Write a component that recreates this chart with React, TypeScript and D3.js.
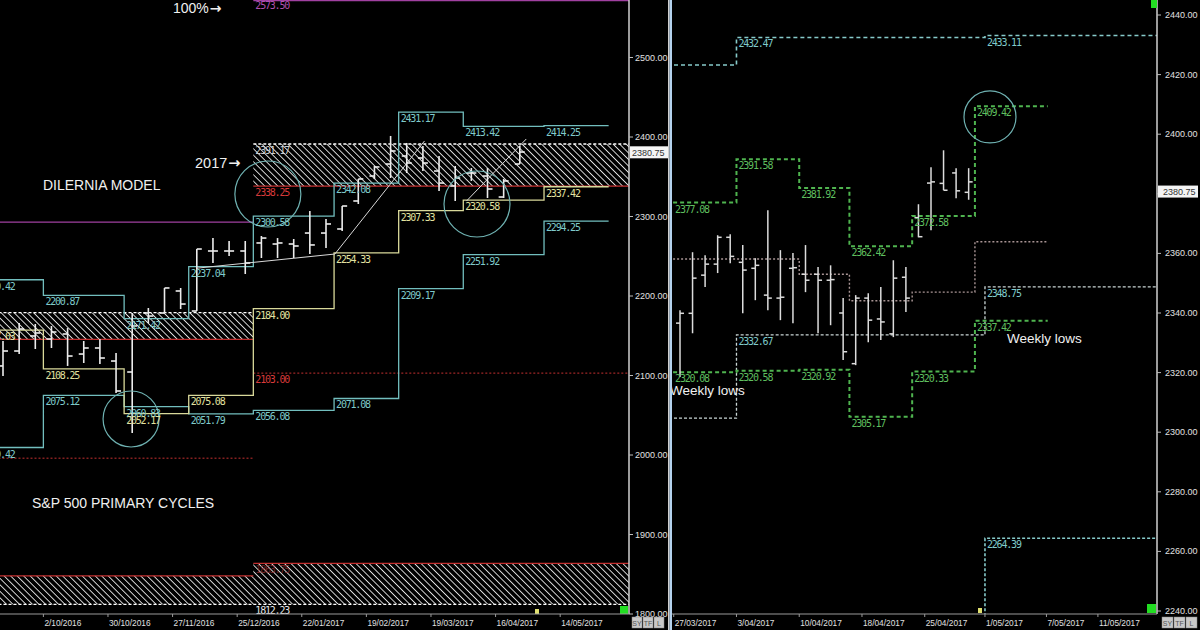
import React from "react";
import * as d3 from "d3";

// ---------------- LEFT PANEL (weekly S&P 500) ----------------
const weekLabels = ["11/09/2016","18/09/2016","25/09/2016","2/10/2016","9/10/2016","16/10/2016","23/10/2016","30/10/2016","6/11/2016","13/11/2016","20/11/2016","27/11/2016","4/12/2016","11/12/2016","18/12/2016","25/12/2016","1/01/2017","8/01/2017","15/01/2017","22/01/2017","29/01/2017","5/02/2017","12/02/2017","19/02/2017","26/02/2017","5/03/2017","12/03/2017","19/03/2017","26/03/2017","2/04/2017","9/04/2017","16/04/2017","23/04/2017"];
const wHigh = [2143.4,2166.0,2164.8,2162.3,2159.7,2143.4,2145.9,2128.3,2178.6,2184.9,2210.1,2210.1,2259.1,2272.9,2269.2,2269.2,2275.5,2272.9,2271.7,2306.9,2296.9,2313.2,2347.2,2363.5,2401.3,2392.5,2388.7,2376.1,2363.5,2361.0,2361.0,2347.2,2388.7];
const wLow = [2099.4,2127.0,2133.3,2134.6,2112.0,2115.7,2114.5,2078.0,2027.7,2166.0,2178.6,2183.6,2181.1,2241.5,2250.3,2227.7,2247.8,2247.8,2247.8,2252.8,2260.4,2281.8,2315.7,2347.2,2348.4,2354.7,2357.2,2332.1,2319.5,2344.7,2323.3,2323.3,2366.0];
const wOpen = [2112.0,2130.8,2149.7,2145.9,2152.2,2127.0,2134.6,2118.2,2104.4,2178.6,2178.6,2206.3,2181.1,2256.6,2256.6,2256.6,2266.7,2265.4,2265.4,2279.2,2279.2,2284.3,2319.5,2350.9,2366.0,2376.1,2373.6,2357.2,2338.4,2354.7,2350.9,2324.5,2366.0];
const wClose = [2130.8,2158.5,2153.5,2154.7,2124.5,2134.6,2122.0,2080.5,2162.3,2174.8,2210.1,2189.9,2259.1,2256.6,2256.6,2241.5,2272.9,2266.7,2262.9,2264.2,2290.6,2313.2,2347.2,2362.3,2382.4,2367.3,2367.3,2342.1,2348.4,2354.7,2334.6,2344.7,2381.1];

const leftTickIdx = [3, 7, 11, 15, 19, 23, 27, 31, 35];
const leftTickLabels = ["2/10/2016","30/10/2016","27/11/2016","25/12/2016","22/01/2017","19/02/2017","19/03/2017","16/04/2017","14/05/2017"];
const leftYTicks = [1800, 1900, 2000, 2100, 2200, 2300, 2400, 2500];

// monthly cycle levels (boundaries in week-index units)
const monthEdges = [-1.5, 2.5, 7.5, 11.5, 15.5, 20.5, 24.5, 28.5, 33.5, 37.5];
const upperCycle = [2220.42, 2200.87, 2171.42, 2237.04, 2300.58, 2342.08, 2431.17, 2413.42, 2414.25];
const lowerCycle = [2009.42, 2075.12, 2060.83, 2051.79, 2056.08, 2071.08, 2209.17, 2251.92, 2294.25];
const midCycle = [2157.03, 2108.25, 2052.17, 2075.08, 2184.0, 2254.33, 2307.33, 2320.58, 2337.42];

// yearly levels
const yearEdges = [-30, 15.5, 40];
const yearZoneTop = [2179.0, 2391.17];
const yearZoneBottom = [2145.5, 2338.25];
const yearBaseTop = [1848.0, 1863.75];
const yearBaseBottom = [1812.0, 1812.23];
const yearRedDotted = [1996.0, 2103.0];
const yearPurple = [2293.0, 2573.5];

const leftTrends = [
  { i1: 12, v1: 2235.0, i2: 20.55, v2: 2252.8 },
  { i1: 20.55, v1: 2252.8, i2: 26.1, v2: 2395.0 },
  { i1: 28.7, v1: 2319.5, i2: 32.4, v2: 2397.5 },
];
const leftCircles = [
  { i: 16.4, v: 2328.3, r: 33 },
  { i: 29.35, v: 2315.7, r: 33 },
  { i: 7.93, v: 2045.3, r: 28 },
];

// ---------------- RIGHT PANEL (daily) ----------------
const dayLabels = ["27/03","28/03","29/03","30/03","31/03","3/04","4/04","5/04","6/04","7/04","10/04","11/04","12/04","13/04","17/04","18/04","19/04","20/04","21/04","24/04","25/04","26/04","27/04","28/04"];
const dHigh = [2340.9,2360.4,2359.4,2366.1,2366.4,2362.8,2358.4,2374.5,2361.1,2360.1,2362.8,2355.4,2356.0,2345.0,2346.0,2346.6,2348.7,2357.7,2355.4,2376.5,2388.9,2394.6,2388.6,2388.6];
const dLow = [2318.5,2333.2,2348.7,2353.4,2356.7,2339.9,2344.3,2340.9,2337.6,2336.6,2347.0,2333.2,2335.9,2324.2,2322.5,2330.2,2330.9,2331.9,2340.3,2365.4,2367.8,2381.2,2378.5,2378.0];
const dOpen = [2336.6,2339.9,2352.7,2356.4,2365.4,2357.0,2355.0,2346.0,2345.0,2355.0,2353.0,2353.0,2351.0,2340.0,2323.0,2345.0,2338.0,2333.0,2352.0,2372.0,2383.6,2383.5,2387.0,2380.5];
const dClose = [2339.9,2351.7,2356.4,2365.4,2359.0,2354.4,2356.0,2345.0,2345.3,2355.2,2351.0,2351.0,2351.2,2327.0,2345.0,2337.6,2337.0,2351.7,2345.0,2365.6,2384.0,2381.2,2381.0,2384.0];

const rightTickIdx = [-0.5, 4.5, 9.5, 14.5, 19.5, 24.3, 29.2, 33.3];
const rightTickLabels = ["27/03/2017","3/04/2017","10/04/2017","18/04/2017","25/04/2017","1/05/2017","7/05/2017","11/05/2017"];
const rightYTicks = [2240, 2260, 2280, 2300, 2320, 2340, 2360, 2380, 2400, 2420, 2440];

const weekEdges = [-0.55, 4.5, 9.5, 13.5, 18.5, 23.5, 29.3];
const weeklyHigh = [2377.08, 2391.58, 2381.92, 2362.42, 2372.58, 2409.42];
const weeklyLow = [2320.08, 2320.58, 2320.92, 2305.17, 2320.33, 2337.42];
const weeklyMid = [2358.1, 2358.1, 2353.0, 2344.1, 2347.0, 2363.9];

const rMonthEdges = [-20, 4.5, 24.3, 40];
const monthHigh = [2423.2, 2432.47, 2433.11];
const monthMid = [2304.7, 2332.67, 2348.75];
const monthLow = [2200.0, 2200.0, 2264.39];

const rightCircle = { i: 24.7, v: 2405.8, r: 26 };
const lastPrice = 2380.75;

// ---------------- colours ----------------
const TEAL = "#72bebe";
const TEAL_TXT = "#7fcaca";
const YEL = "#d9d99a";
const YEL_TXT = "#e2e2a0";
const GREEN = "#4fb44f";
const GREEN_TXT = "#5fbf5f";
const RED = "#c43030";
const PURPLE = "#a040a0";
const WHITE = "#ececec";

const monoFont = "'DejaVu Sans Mono', monospace";
const sansFont = "'Liberation Sans', Arial, sans-serif";

function stepPath(edges: number[], vals: number[], x: any, y: any) {
  const pts: [number, number][] = edges.map((e, i) => [e, vals[Math.min(i, vals.length - 1)]]);
  return d3
    .line<[number, number]>()
    .x((d) => x(d[0]))
    .y((d) => y(d[1]))
    .curve(d3.curveStepAfter)(pts) as string;
}

function LevelLabels({ edges, vals, x, y, color }: any) {
  return (
    <g>
      {vals.map((v: number, i: number) => (
        <text
          key={i}
          x={x(edges[i]) + 2}
          y={y(v) + 10}
          fill={color}
          fontFamily={monoFont}
          fontSize={10}
          letterSpacing={-1.2}
        >
          {v.toFixed(2)}
        </text>
      ))}
    </g>
  );
}

function Arrow() {
  return (
    <tspan fontFamily="'DejaVu Sans', sans-serif" fontWeight="bold" dx={1}>
      →
    </tspan>
  );
}

export default function App() {
  const xL = d3.scaleLinear().domain([0, 35]).range([3, 568.25]);
  const yL = d3.scaleLinear().domain([1800, 2500]).range([614, 57.5]);
  const xR = d3.scaleLinear().domain([0, 34]).range([680, 1106.7]);
  const yR = d3.scaleLinear().domain([2240, 2440]).range([611, 15]);

  const LW = 629; // left plot right edge
  const RX0 = 672; // right plot left edge
  const RX1 = 1157; // right plot right edge
  const PB = 614; // plot bottom

  return (
    <svg
      width={1200}
      height={630}
      style={{ position: "absolute", left: 0, top: 0, background: "#000" }}
    >
      <defs>
        <pattern id="hatch" width={4.6} height={4.6} patternUnits="userSpaceOnUse" patternTransform="rotate(-45)">
          <line x1={0} y1={0} x2={0} y2={4.6} stroke="#f2f2f2" strokeWidth={1.7} />
        </pattern>
        <clipPath id="clipL">
          <rect x={0} y={0} width={LW} height={PB} />
        </clipPath>
        <clipPath id="clipR">
          <rect x={RX0} y={0} width={RX1 - RX0} height={PB} />
        </clipPath>
      </defs>
      <rect x={0} y={0} width={1200} height={630} fill="#000" />

      {/* ================= LEFT PANEL ================= */}
      <g clipPath="url(#clipL)">
        {yearZoneTop.map((t, i) => (
          <rect
            key={"zt" + i}
            x={xL(yearEdges[i])}
            width={xL(yearEdges[i + 1]) - xL(yearEdges[i])}
            y={yL(t)}
            height={yL(yearZoneBottom[i]) - yL(t)}
            fill="url(#hatch)"
          />
        ))}
        {yearBaseTop.map((t, i) => (
          <rect
            key={"zb" + i}
            x={xL(yearEdges[i])}
            width={xL(yearEdges[i + 1]) - xL(yearEdges[i])}
            y={yL(t)}
            height={yL(yearBaseBottom[i]) - yL(t)}
            fill="url(#hatch)"
          />
        ))}
        {yearZoneTop.map((t, i) => (
          <g key={"zl" + i}>
            <line x1={xL(yearEdges[i])} x2={xL(yearEdges[i + 1])} y1={yL(t)} y2={yL(t)} stroke="#fff" strokeWidth={1.3} strokeDasharray="3 2" />
            <line x1={xL(yearEdges[i])} x2={xL(yearEdges[i + 1])} y1={yL(yearZoneBottom[i])} y2={yL(yearZoneBottom[i])} stroke={RED} strokeWidth={1.3} />
            <line x1={xL(yearEdges[i])} x2={xL(yearEdges[i + 1])} y1={yL(yearBaseTop[i])} y2={yL(yearBaseTop[i])} stroke={RED} strokeWidth={1.3} />
            <line x1={xL(yearEdges[i])} x2={xL(yearEdges[i + 1])} y1={yL(yearBaseBottom[i])} y2={yL(yearBaseBottom[i])} stroke="#fff" strokeWidth={1.3} strokeDasharray="3 2" />
            <line x1={xL(yearEdges[i])} x2={xL(yearEdges[i + 1])} y1={yL(yearRedDotted[i])} y2={yL(yearRedDotted[i])} stroke={RED} strokeWidth={1} strokeDasharray="2 2" />
            <line x1={xL(yearEdges[i])} x2={xL(yearEdges[i + 1])} y1={yL(yearPurple[i]) + (i === 1 ? 1.5 : 0)} y2={yL(yearPurple[i]) + (i === 1 ? 1.5 : 0)} stroke={PURPLE} strokeWidth={1.3} />
          </g>
        ))}

        <path d={stepPath(monthEdges, upperCycle, xL, yL)} fill="none" stroke={TEAL} strokeWidth={1.3} />
        <path d={stepPath(monthEdges, lowerCycle, xL, yL)} fill="none" stroke={TEAL} strokeWidth={1.3} />
        <path d={stepPath(monthEdges, midCycle, xL, yL)} fill="none" stroke={YEL} strokeWidth={1.3} />

        {leftTrends.map((t, i) => (
          <line key={"tr" + i} x1={xL(t.i1)} y1={yL(t.v1)} x2={xL(t.i2)} y2={yL(t.v2)} stroke="#d8d8d8" strokeWidth={1} />
        ))}

        {weekLabels.map((w, i) => (
          <g key={w} stroke={WHITE} strokeWidth={1.6}>
            <line x1={xL(i)} x2={xL(i)} y1={yL(wHigh[i])} y2={yL(wLow[i])} />
            <line x1={xL(i) - 5} x2={xL(i)} y1={yL(wOpen[i])} y2={yL(wOpen[i])} />
            <line x1={xL(i)} x2={xL(i) + 5} y1={yL(wClose[i])} y2={yL(wClose[i])} />
          </g>
        ))}

        {leftCircles.map((c, i) => (
          <circle key={"c" + i} cx={xL(c.i)} cy={yL(c.v)} r={c.r} fill="none" stroke="#6fb2b2" strokeWidth={1.2} />
        ))}

        <LevelLabels edges={monthEdges} vals={upperCycle} x={xL} y={yL} color={TEAL_TXT} />
        <LevelLabels edges={monthEdges} vals={lowerCycle} x={xL} y={yL} color={TEAL_TXT} />
        <LevelLabels edges={monthEdges} vals={midCycle} x={xL} y={yL} color={YEL_TXT} />
        <g fontFamily={monoFont} fontSize={10} letterSpacing={-1.2}>
          <text x={xL(yearEdges[1]) + 2} y={yL(yearZoneTop[1]) + 10} fill="#cfcfcf">{yearZoneTop[1].toFixed(2)}</text>
          <text x={xL(yearEdges[1]) + 2} y={yL(yearZoneBottom[1]) + 10} fill="#d83a3a">{yearZoneBottom[1].toFixed(2)}</text>
          <text x={xL(yearEdges[1]) + 2} y={yL(yearRedDotted[1]) + 10} fill="#d83a3a">{yearRedDotted[1].toFixed(2)}</text>
          <text x={xL(yearEdges[1]) + 2} y={yL(yearPurple[1]) + 10} fill="#b050b0">{yearPurple[1].toFixed(2)}</text>
          <text x={xL(yearEdges[1]) + 2} y={yL(yearBaseTop[1]) + 10} fill="#a03030" opacity={0.7}>{yearBaseTop[1].toFixed(2)}</text>
          <text x={xL(yearEdges[1]) + 2} y={yL(yearBaseBottom[1]) + 10} fill="#e8e8e8">{yearBaseBottom[1].toFixed(2)}</text>
        </g>

        <g fill="#f0f0f0" fontFamily={sansFont}>
          <text x={173} y={13} fontSize={14}>100%<Arrow /></text>
          <text x={195} y={168} fontSize={14.5}>2017<Arrow /></text>
          <text x={43} y={190} fontSize={14}>DILERNIA MODEL</text>
          <text x={32} y={508} fontSize={14}>S&amp;P 500 PRIMARY CYCLES</text>
        </g>
        <rect x={535} y={609} width={4} height={5} fill="#e0e070" />
        <rect x={620} y={606} width={8} height={8} fill="#22dd22" />
      </g>

      {/* left axes */}
      <line x1={LW} x2={LW} y1={0} y2={PB} stroke="#d0d0d0" strokeWidth={1.5} />
      <line x1={0} x2={LW} y1={PB} y2={PB} stroke="#9a9a9a" strokeWidth={1} />
      {leftYTicks.map((t) => (
        <g key={"ly" + t}>
          <line x1={LW} x2={LW + 4} y1={yL(t)} y2={yL(t)} stroke="#bbb" />
          <text x={LW + 6} y={yL(t) + 3} fill="#e0e0e0" fontFamily={sansFont} fontSize={9}>
            {t.toFixed(2)}
          </text>
        </g>
      ))}
      <rect x={LW + 1} y={yL(lastPrice) - 6} width={38} height={12} fill="#f4f4f4" />
      <text x={LW + 3} y={yL(lastPrice) + 3.5} fill="#333" fontFamily={sansFont} fontSize={9}>
        {lastPrice.toFixed(2)}
      </text>
      {leftTickIdx.map((t, i) => (
        <g key={"lx" + t}>
          <line x1={xL(t - 0.5)} x2={xL(t - 0.5)} y1={PB} y2={PB + 3} stroke="#9a9a9a" />
          <text x={xL(t - 0.5) + 1} y={626} fill="#e0e0e0" fontFamily={sansFont} fontSize={8.3}>
            {leftTickLabels[i]}
          </text>
        </g>
      ))}
      {["SY", "TF", "L"].map((s, i) => (
        <g key={"lb" + s}>
          <rect x={632 + i * 11} y={617} width={10} height={11} fill="#c8c8c8" stroke="#888" strokeWidth={0.5} />
          <text x={637 + i * 11} y={626} fill="#555" fontFamily={sansFont} fontSize={7} textAnchor="middle">{s}</text>
        </g>
      ))}

      {/* divider */}
      <rect x={668} y={0} width={1.5} height={630} fill="#cfcfcf" />
      <rect x={669.5} y={0} width={2.5} height={630} fill="#b4d2ee" />

      {/* ================= RIGHT PANEL ================= */}
      <g clipPath="url(#clipR)">
        <path d={stepPath(rMonthEdges, monthHigh, xR, yR)} fill="none" stroke="#86caca" strokeWidth={1.6} strokeDasharray="4 3" />
        <path d={stepPath(rMonthEdges, monthMid, xR, yR)} fill="none" stroke="#c8d4d4" strokeWidth={1.3} strokeDasharray="3 2" />
        <path d={stepPath(rMonthEdges, monthLow, xR, yR)} fill="none" stroke="#86caca" strokeWidth={1.6} strokeDasharray="3 2" />
        <path d={stepPath(weekEdges, weeklyMid, xR, yR)} fill="none" stroke="#a89494" strokeWidth={1.4} strokeDasharray="2 2" />
        <path d={stepPath(weekEdges, weeklyHigh, xR, yR)} fill="none" stroke={GREEN} strokeWidth={2} strokeDasharray="4 3" />
        <path d={stepPath(weekEdges, weeklyLow, xR, yR)} fill="none" stroke={GREEN} strokeWidth={2} strokeDasharray="4 3" />

        {dayLabels.map((d, i) => (
          <g key={d} stroke="#dcdcdc" strokeWidth={1.5}>
            <line x1={xR(i)} x2={xR(i)} y1={yR(dHigh[i])} y2={yR(dLow[i])} />
            <line x1={xR(i) - 4} x2={xR(i)} y1={yR(dOpen[i])} y2={yR(dOpen[i])} />
            <line x1={xR(i)} x2={xR(i) + 4} y1={yR(dClose[i])} y2={yR(dClose[i])} />
          </g>
        ))}

        <circle cx={xR(rightCircle.i)} cy={yR(rightCircle.v)} r={rightCircle.r} fill="none" stroke="#6fb2b2" strokeWidth={1.2} />

        <LevelLabels edges={weekEdges} vals={weeklyHigh} x={xR} y={yR} color={GREEN_TXT} />
        <LevelLabels edges={weekEdges} vals={weeklyLow} x={xR} y={yR} color={GREEN_TXT} />
        <LevelLabels edges={rMonthEdges} vals={monthHigh} x={xR} y={yR} color={TEAL_TXT} />
        <LevelLabels edges={rMonthEdges} vals={monthMid} x={xR} y={yR} color={TEAL_TXT} />
        <LevelLabels edges={rMonthEdges} vals={monthLow} x={xR} y={yR} color={TEAL_TXT} />

        <g fill="#f0f0f0" fontFamily={sansFont} fontSize={13.5}>
          <text x={670} y={395}>Weekly lows</text>
          <text x={1007} y={343}>Weekly lows</text>
        </g>
        <rect x={978} y={608} width={4} height={5} fill="#e0e070" />
        <rect x={1147} y={604} width={9} height={9} fill="#22dd22" />
      </g>

      {/* right axes */}
      <line x1={RX1} x2={RX1} y1={0} y2={PB} stroke="#d0d0d0" strokeWidth={1.5} />
      <line x1={RX0} x2={RX1} y1={PB} y2={PB} stroke="#9a9a9a" strokeWidth={1} />
      <rect x={1151} y={0} width={6} height={8} fill="#22dd22" />
      {rightYTicks.map((t) => (
        <g key={"ry" + t}>
          <line x1={RX1} x2={RX1 + 4} y1={yR(t)} y2={yR(t)} stroke="#bbb" />
          <text x={RX1 + 8} y={yR(t) + 3} fill="#e0e0e0" fontFamily={sansFont} fontSize={9}>
            {t.toFixed(2)}
          </text>
        </g>
      ))}
      <rect x={RX1 + 1} y={yR(lastPrice) - 6} width={40} height={12} fill="#f4f4f4" />
      <text x={RX1 + 6} y={yR(lastPrice) + 3.5} fill="#333" fontFamily={sansFont} fontSize={9}>
        {lastPrice.toFixed(2)}
      </text>
      {rightTickIdx.map((t, i) => (
        <g key={"rx" + t}>
          <line x1={xR(t)} x2={xR(t)} y1={PB} y2={PB + 3} stroke="#9a9a9a" />
          <text x={xR(t) + 1} y={626} fill="#e0e0e0" fontFamily={sansFont} fontSize={8.3}>
            {rightTickLabels[i]}
          </text>
        </g>
      ))}
      {["SY", "TF", "L"].map((s, i) => (
        <g key={"rb" + s}>
          <rect x={1162 + i * 12} y={617} width={11} height={11} fill="#c8c8c8" stroke="#888" strokeWidth={0.5} />
          <text x={1167.5 + i * 12} y={626} fill="#555" fontFamily={sansFont} fontSize={7} textAnchor="middle">{s}</text>
        </g>
      ))}
    </svg>
  );
}
